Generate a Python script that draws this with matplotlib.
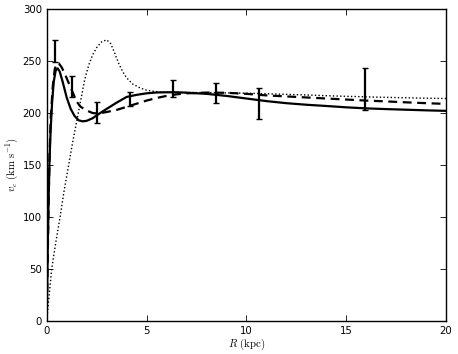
import matplotlib
matplotlib.use("Agg")
import matplotlib.pyplot as plt

# error bar data
r_obs = [0.40, 1.25, 2.53, 4.17, 6.34, 8.48, 10.63, 15.94]
v_obs = [259.5, 225.5, 200.5, 213.5, 223.5, 219.5, 209.0, 223.0]
v_err = [10.5, 10.0, 10.5, 7.0, 8.0, 9.5, 15.0, 20.0]

# solid model curve
r_solid = [0, 0.03, 0.06, 0.1, 0.14, 0.2, 0.27, 0.35, 0.45, 0.55, 0.65, 0.8, 1.0,
           1.2, 1.4, 1.6, 1.8, 2.0, 2.3, 2.6, 3.0, 3.5, 4.0, 4.5, 5.0, 5.5, 6.0,
           6.5, 7.0, 8.0, 9.0, 10, 11, 12, 13, 14, 15, 16, 17, 18, 19, 20]
v_solid = [0, 40, 80, 120, 155, 185, 210, 230, 241, 243, 240, 230, 215,
           204, 197, 193, 192, 192.5, 195, 199, 204, 210, 215.5, 217.5, 219, 219.8, 220,
           220, 219.6, 218.5, 216.5, 214, 211.5, 209.5, 208, 206.8, 205.5, 204.5, 203.8, 203.2, 202.6, 202.1]

# dashed model curve
r_dash = [0, 0.05, 0.1, 0.15, 0.2, 0.3, 0.4, 0.5, 0.6, 0.75, 0.9, 1.1, 1.3, 1.5,
          1.7, 2.0, 2.3, 2.6, 3.0, 3.5, 4.0, 4.5, 5.0, 5.5, 6.0, 6.5, 7.0, 8.0,
          9.0, 10, 11, 12, 13, 14, 15, 16, 17, 18, 19, 20]
v_dash = [0, 60, 120, 165, 195, 225, 242, 248, 248, 244, 238, 229, 220, 211,
          206, 202.5, 200, 199.5, 201, 203, 206, 209, 212, 214.5, 216.5, 218, 219, 219.7,
          219.5, 218.5, 217, 216, 215, 214, 213, 212, 211.2, 210.3, 209.5, 208.8]

# dotted model curve
r_dot = [0, 0.25, 0.45, 0.67, 0.87, 1.08, 1.3, 1.5, 1.7, 1.9, 2.1, 2.3, 2.5, 2.75,
         3.0, 3.2, 3.4, 3.6, 3.8, 4.0, 4.3, 4.7, 5.0, 5.5, 6, 7, 8, 9, 10, 11,
         12, 13, 14, 15, 16, 17, 18, 19, 20]
v_dot = [0, 50, 75, 100, 125, 148, 172, 192, 212, 232, 246, 256, 263, 268.5,
         270.5, 267, 258, 248, 240, 234, 228, 224, 222, 220.5, 220, 219.8, 219.6, 219.4, 219.1, 218.6,
         218, 217.4, 216.7, 216.1, 215.6, 215.1, 214.7, 214.3, 214]

plt.rcParams['mathtext.fontset'] = 'cm'

fig = plt.figure(figsize=(4.58, 3.54), dpi=100)
ax = fig.add_axes([0.102, 0.094, 0.872, 0.88])

ax.plot(r_solid, v_solid, color='black', lw=1.6, ls='-')
ax.plot(r_dash, v_dash, color='black', lw=1.6, ls='--', dashes=(4, 2.5))
ax.plot(r_dot, v_dot, color='black', lw=1.0, ls=(0, (1, 1.6)))
ax.errorbar(r_obs, v_obs, yerr=v_err, fmt='none', ecolor='black',
            elinewidth=1.6, capsize=2.5, capthick=1.0)

ax.set_xlim(0, 20)
ax.set_ylim(0, 300)
ax.set_xticks([0, 5, 10, 15, 20])
ax.set_yticks([0, 50, 100, 150, 200, 250, 300])
ax.tick_params(direction='in', top=True, right=True, labelsize=7.3, length=4, width=0.6)
for s in ax.spines.values():
    s.set_linewidth(1.0)

ax.set_xlabel(r'$R\ (\mathrm{kpc})$', fontsize=7.8, labelpad=1)
ax.set_ylabel(r'$v_c\ (\mathrm{km\ s^{-1}})$', fontsize=7.8, labelpad=2)

fig.savefig('out.png', dpi=100)
